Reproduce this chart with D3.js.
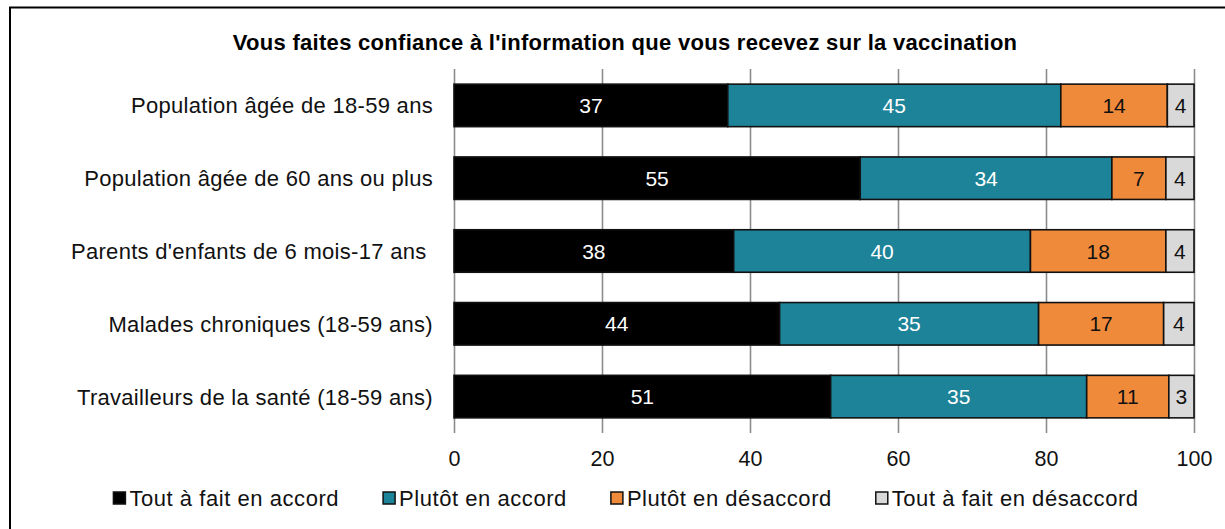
<!DOCTYPE html>
<html>
<head>
<meta charset="utf-8">
<script src="https://cdn.jsdelivr.net/npm/d3@7"></script>
<style>
  body { margin: 0; background: #fff; }
  svg { display: block; font-family: "Liberation Sans", Arial, Helvetica, sans-serif; }
</style>
</head>
<body>
<svg id="chart" width="1225" height="529"></svg>
<script>
(function() {

	// DATA
	var title = "Vous faites confiance à l'information que vous recevez sur la vaccination";
	var categories = [
		"Population âgée de 18-59 ans",
		"Population âgée de 60 ans ou plus",
		"Parents d'enfants de 6 mois-17 ans ",
		"Malades chroniques (18-59 ans)",
		"Travailleurs de la santé (18-59 ans)"
	];
	var seriesNames = ["Tout à fait en accord", "Plutôt en accord", "Plutôt en désaccord", "Tout à fait en désaccord"];
	var toutAccord     = [37.0, 54.9, 37.8, 44.0, 50.9];
	var plutotAccord   = [45.0, 34.0, 40.1, 35.0, 34.6];
	var plutotDesacc   = [14.4, 7.3, 18.3, 16.9, 11.1];
	var toutDesacc     = [3.6, 3.8, 3.8, 4.1, 3.4];
	var xTicks = [0, 20, 40, 60, 80, 100];

	var colors = ["#000000", "#1d8399", "#f08a3b", "#d9d9d9"];
	var textColors = ["#ffffff", "#ffffff", "#111111", "#111111"];

	var margin = { top: 69, left: 454, right: 31, bottom: 96 };
	var width = 1225 - margin.left - margin.right;
	var height = 529 - margin.top - margin.bottom;

	var svg = d3.select('#chart');

	// frame
	svg.append('rect')
		.attr('x', 10).attr('y', 7.5)
		.attr('width', 1240).attr('height', 560)
		.attr('fill', 'none')
		.attr('stroke', '#000')
		.attr('stroke-width', 2);

	var rows = categories.map(function(c, i) {
		return { cat: c, s0: toutAccord[i], s1: plutotAccord[i], s2: plutotDesacc[i], s3: toutDesacc[i] };
	});
	var keys = ['s0', 's1', 's2', 's3'];
	var stacked = d3.stack().keys(keys)(rows);

	var x = d3.scaleLinear().domain([0, 100]).range([0, width]);
	var y = d3.scaleBand().domain(categories).range([0, height])
		.paddingInner(0.416).paddingOuter(0.208);

	var g = svg.append('g').attr('transform', 'translate(' + margin.left + ',' + margin.top + ')');

	// title
	svg.append('text')
		.attr('x', 625).attr('y', 50)
		.attr('text-anchor', 'middle')
		.style('font-weight', 'bold')
		.style('font-size', '22px')
		.style('letter-spacing', '0.3px')
		.attr('fill', '#000')
		.text(title);

	// gridlines + x axis labels
	var xAxis = d3.axisBottom(x).tickValues(xTicks).tickSize(height).tickPadding(18);
	var ax = g.append('g').attr('class', 'axis').call(xAxis);
	ax.select('.domain').remove();
	ax.selectAll('.tick line').attr('stroke', '#8c8c8c').attr('stroke-width', 1.6);
	ax.selectAll('.tick text')
		.attr('fill', '#111')
		.style('font-size', '21.5px')
		.style('font-family', '"Liberation Sans", Arial, sans-serif');

	// bars
	var layer = g.selectAll('.layer')
		.data(stacked)
		.enter().append('g')
		.attr('class', 'layer');

	layer.selectAll('rect')
		.data(function(d, i) { return d.map(function(p) { return { p: p, k: i }; }); })
		.enter().append('rect')
		.attr('x', function(d) { return x(d.p[0]); })
		.attr('y', function(d) { return y(d.p.data.cat); })
		.attr('width', function(d) { return x(d.p[1]) - x(d.p[0]); })
		.attr('height', y.bandwidth())
		.attr('fill', function(d) { return colors[d.k]; })
		.attr('stroke', '#111')
		.attr('stroke-width', 1.6);

	layer.selectAll('text')
		.data(function(d, i) { return d.map(function(p) { return { p: p, k: i }; }); })
		.enter().append('text')
		.attr('x', function(d) { return (x(d.p[0]) + x(d.p[1])) / 2; })
		.attr('y', function(d) { return y(d.p.data.cat) + y.bandwidth() / 2; })
		.attr('dy', '0.36em')
		.attr('text-anchor', 'middle')
		.style('font-size', '21px')
		.attr('fill', function(d) { return textColors[d.k]; })
		.text(function(d) { return Math.round(d.p[1] - d.p[0]); });

	// category labels
	g.selectAll('.cat')
		.data(categories)
		.enter().append('text')
		.attr('class', 'cat')
		.attr('x', -21)
		.attr('y', function(d) { return y(d) + y.bandwidth() / 2; })
		.attr('dy', '0.36em')
		.attr('text-anchor', 'end')
		.style('font-size', '22px')
		.style('letter-spacing', '0.3px')
		.style('white-space', 'pre')
		.attr('fill', '#111')
		.text(function(d) { return d; });

	// legend
	var legend = svg.append('g');
	var items = legend.selectAll('.item')
		.data(seriesNames)
		.enter().append('g')
		.attr('class', 'item');

	items.append('rect')
		.attr('width', 12).attr('height', 12)
		.attr('y', -6)
		.attr('fill', function(d, i) { return colors[i]; })
		.attr('stroke', '#111')
		.attr('stroke-width', 1.5);

	items.append('text')
		.attr('x', 16)
		.attr('dy', '0.36em')
		.style('font-size', '22px')
		.style('letter-spacing', '0.55px')
		.attr('fill', '#111')
		.text(function(d) { return d; });

	var offsets = [];
	var cursor = 0;
	items.each(function() {
		offsets.push(cursor);
		cursor += 16 + this.querySelector('text').getComputedTextLength() + 44;
	});
	var total = cursor - 44;
	var startX = 626 - total / 2;
	items.attr('transform', function(d, i) { return 'translate(' + (startX + offsets[i]) + ',498)'; });

})();
</script>
</body>
</html>
